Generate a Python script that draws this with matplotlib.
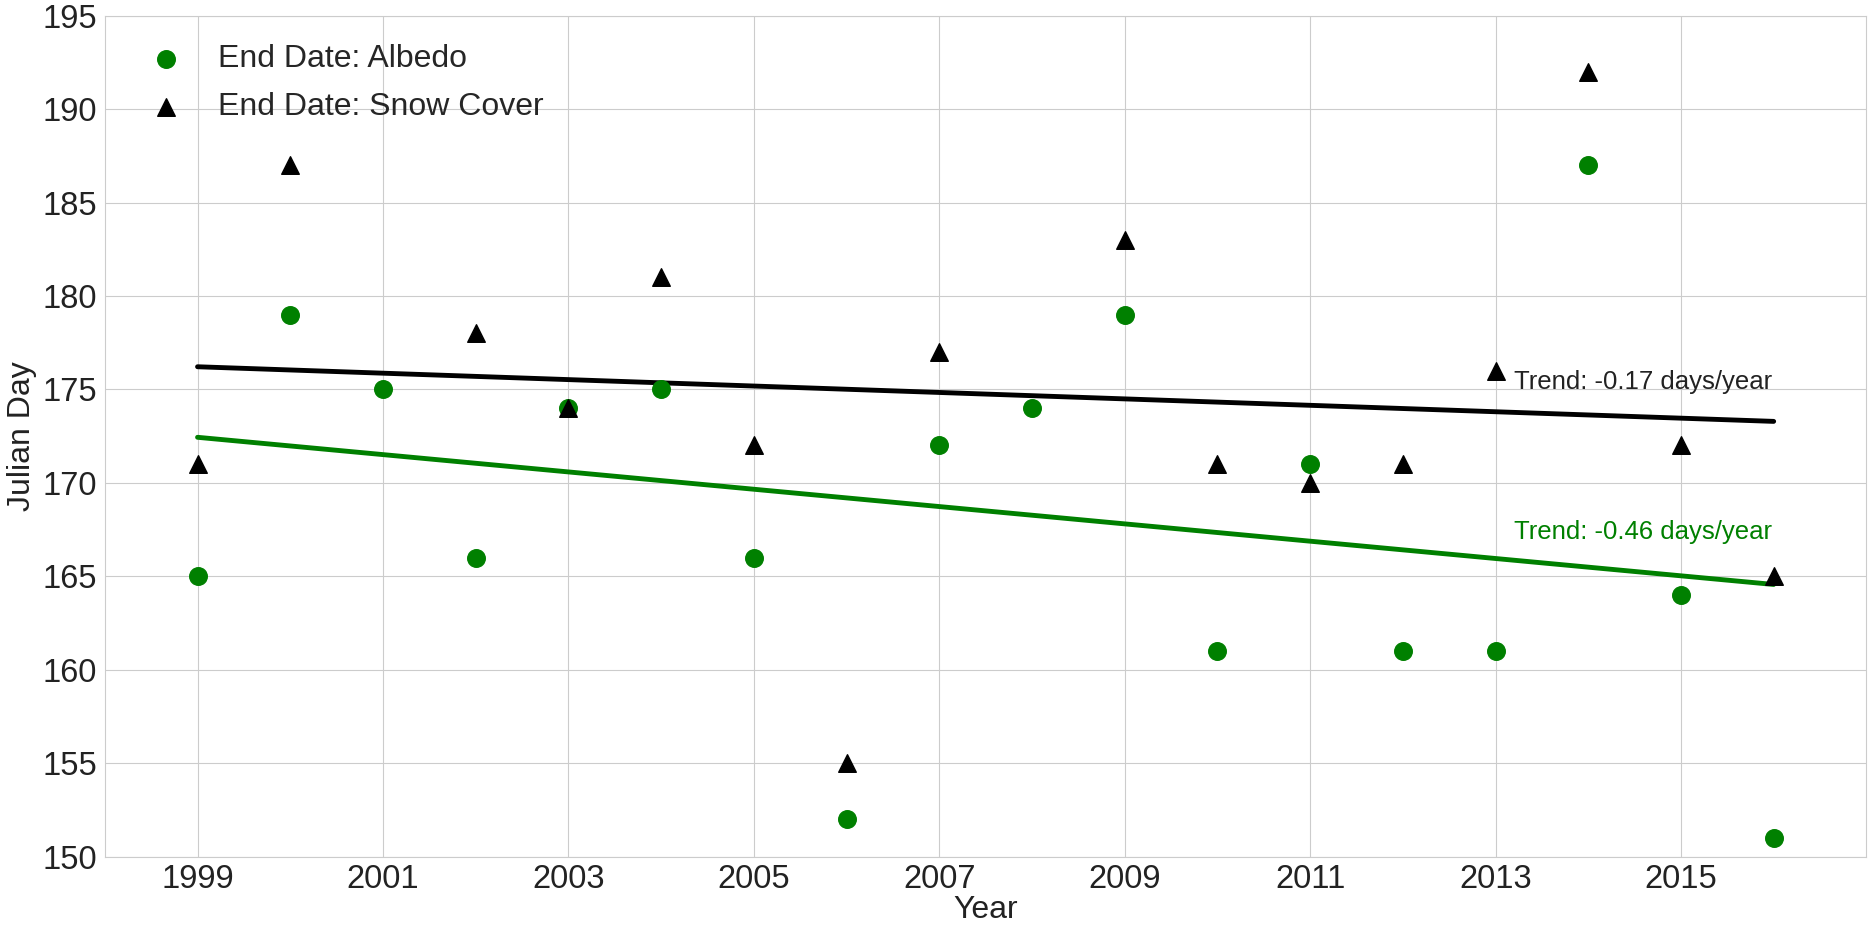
import numpy as np
import matplotlib
matplotlib.use('Agg')
import matplotlib.pyplot as plt
import seaborn as sns

anos = np.arange(1999, 2017)
fim_albedo = [165, 179, 175, 166, 174, 175, 166, 152, 172, 174, 179, 161, 171, 161, 161, 187, 164, 151]
# sem dado de neve em 2001 e 2008
fim_neve = [171, 187, np.nan, 178, 174, 181, 172, 155, 177, np.nan, 183, 171, 170, 171, 176, 192, 172, 165]

sns.set_style('whitegrid')
plt.rcParams['font.family'] = ['Liberation Sans Narrow', 'Liberation Sans', 'DejaVu Sans']

fig, ax = plt.subplots(figsize=(18.72, 9.26), dpi=100)
fig.subplots_adjust(left=0.056, right=0.997, top=0.983, bottom=0.075)

ax.scatter(anos, fim_albedo, s=160, color='green', marker='o', label='End Date: Albedo', zorder=3)
ax.scatter(anos, fim_neve, s=160, color='black', marker='^', label='End Date: Snow Cover', zorder=4)

# tendencias lineares
neve = np.array(fim_neve)
ok = ~np.isnan(neve)
coef_neve = np.polyfit(anos[ok], neve[ok], 1)
coef_albedo = np.polyfit(anos, fim_albedo, 1)
ax.plot(anos, np.polyval(coef_neve, anos), color='black', lw=3.5, zorder=2)
ax.plot(anos, np.polyval(coef_albedo, anos), color='green', lw=3.5, zorder=2)

ax.text(2013.2, 175, 'Trend: %.2f days/year' % coef_neve[0], color='#222222', fontsize=18.5)
ax.text(2013.2, 167, 'Trend: %.2f days/year' % coef_albedo[0], color='green', fontsize=18.5)

ax.set_xlim(1998, 2017)
ax.set_ylim(150, 195)
ax.set_xticks(np.arange(1999, 2016, 2))
ax.set_yticks(np.arange(150, 196, 5))
ax.tick_params(axis='both', labelsize=23.5, colors='#222222', pad=2)
ax.set_xlabel('Year', fontsize=23, color='#222222', labelpad=0)
ax.set_ylabel('Julian Day', fontsize=23, color='#222222', labelpad=4)

ax.legend(loc='upper left', fontsize=23, frameon=False, borderaxespad=0.5,
          handletextpad=0.65, labelspacing=0.56)

fig.savefig('out.png', dpi=100)
